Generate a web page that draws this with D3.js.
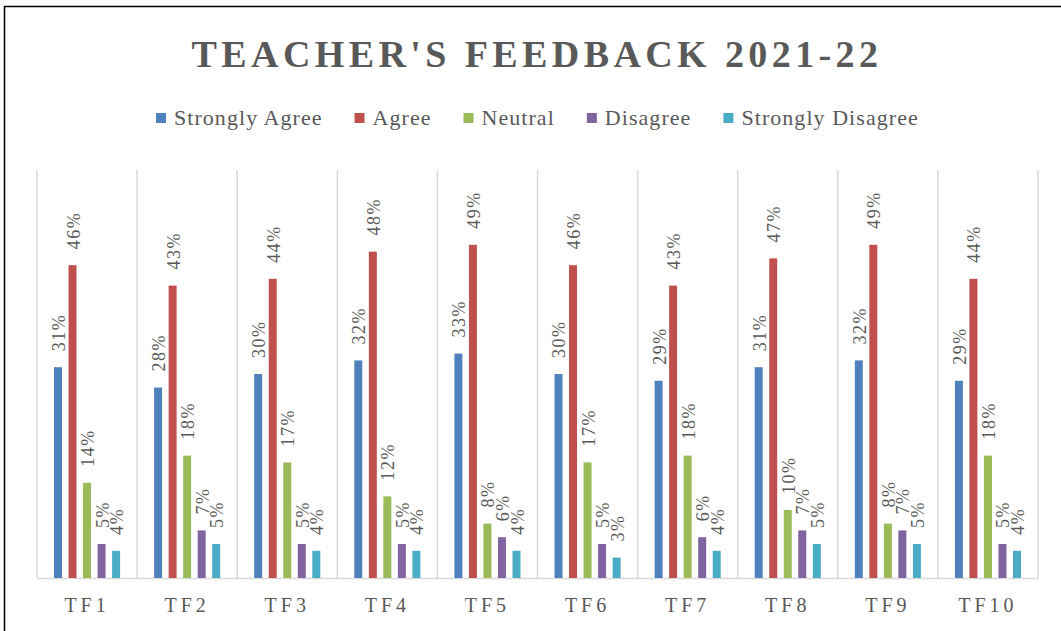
<!DOCTYPE html>
<html>
  <head>
    <meta charset="utf-8">
    <title>Teacher's feedback 2021-22</title>
    <script src="https://d3js.org/d3.v7.min.js"></script>
    <style>
      body { margin: 0; background: #fff; }
      svg { display: block; font-family: "Liberation Serif", "DejaVu Serif", serif; }
    </style>
  </head>
  <body>
    <div id="chart"></div>
    <script>
      // data
      var categories = ["TF1", "TF2", "TF3", "TF4", "TF5", "TF6", "TF7", "TF8", "TF9", "TF10"];
      var seriesNames = ["Strongly Agree", "Agree", "Neutral", "Disagree", "Strongly Disagree"];
      var stronglyAgree = [31, 28, 30, 32, 33, 30, 29, 31, 32, 29];
      var agree = [46, 43, 44, 48, 49, 46, 43, 47, 49, 44];
      var neutral = [14, 18, 17, 12, 8, 17, 18, 10, 8, 18];
      var disagree = [5, 7, 5, 5, 6, 5, 6, 7, 7, 5];
      var stronglyDisagree = [4, 5, 4, 4, 4, 3, 4, 5, 5, 4];
      var seriesValues = [stronglyAgree, agree, neutral, disagree, stronglyDisagree];
      var colours = ["#4F81BD", "#C0504D", "#9BBB59", "#8064A2", "#4BACC6"];

      var width = 1061, height = 631;
      var plot = { left: 37, right: 1038, top: 170, bottom: 578 };
      var textCol = "#595959";

      var svg = d3.select("#chart").append("svg")
        .attr("width", width)
        .attr("height", height);

      // outer frame (runs off the right and bottom of the picture)
      svg.append("path")
        .attr("d", "M4.5," + height + "V6.5H" + width)
        .attr("fill", "none")
        .attr("stroke", "#000")
        .attr("stroke-width", 1.5);

      // title
      svg.append("text")
        .attr("x", 537)
        .attr("y", 67)
        .attr("text-anchor", "middle")
        .attr("fill", textCol)
        .attr("font-weight", "bold")
        .attr("font-size", 38)
        .attr("letter-spacing", 4.4)
        .text("TEACHER'S FEEDBACK 2021-22");

      // scales
      var x0 = d3.scaleBand()
        .domain(categories)
        .range([plot.left, plot.right]);
      var x1 = d3.scaleBand()
        .domain(seriesNames)
        .range([17, x0.bandwidth() - 17])
        .paddingInner(0.45);
      var y = d3.scaleLinear()
        .domain([0, 60])
        .range([plot.bottom, plot.top]);

      // vertical gridlines between categories
      var bounds = categories.map(function(c) { return x0(c); }).concat([plot.right]);
      svg.append("g")
        .selectAll("line")
        .data(bounds)
        .join("line")
          .attr("x1", function(d) { return d; })
          .attr("x2", function(d) { return d; })
          .attr("y1", plot.top)
          .attr("y2", plot.bottom)
          .attr("stroke", "#d9d9d9")
          .attr("stroke-width", 1.5);

      // x axis
      var xAxis = svg.append("g")
        .attr("transform", "translate(0," + plot.bottom + ")")
        .call(d3.axisBottom(x0).tickSize(0).tickPadding(20));
      xAxis.select(".domain")
        .attr("stroke", "#d9d9d9")
        .attr("stroke-width", 1.5);
      xAxis.selectAll("text")
        .attr("fill", textCol)
        .attr("font-family", "Liberation Serif, serif")
        .attr("font-size", 20)
        .attr("letter-spacing", 4);

      // bars
      var groups = svg.append("g")
        .selectAll("g")
        .data(categories)
        .join("g")
          .attr("transform", function(c) { return "translate(" + x0(c) + ",0)"; });

      groups.selectAll("rect")
        .data(function(c, i) {
          return seriesNames.map(function(s, j) { return { series: s, value: seriesValues[j][i], colour: colours[j] }; });
        })
        .join("rect")
          .attr("x", function(d) { return x1(d.series); })
          .attr("width", x1.bandwidth())
          .attr("y", function(d) { return y(d.value); })
          .attr("height", function(d) { return y(0) - y(d.value); })
          .attr("fill", function(d) { return d.colour; });

      // rotated data labels
      groups.selectAll("text")
        .data(function(c, i) {
          return seriesNames.map(function(s, j) { return { series: s, value: seriesValues[j][i] }; });
        })
        .join("text")
          .attr("transform", function(d) {
            var cx = x1(d.series) + x1.bandwidth() / 2 + 7;
            return "translate(" + cx + "," + (y(d.value) - 16) + ") rotate(-90)";
          })
          .attr("fill", textCol)
          .attr("font-size", 18)
          .attr("letter-spacing", 1.5)
          .text(function(d) { return d.value + "%"; });

      // legend
      var legend = svg.append("g")
        .attr("transform", "translate(0,118)");
      var lx = 156;
      seriesNames.forEach(function(s, j) {
        legend.append("rect")
          .attr("x", lx)
          .attr("y", -5)
          .attr("width", 10)
          .attr("height", 10)
          .attr("fill", colours[j]);
        var t = legend.append("text")
          .attr("x", lx + 18)
          .attr("y", 7)
          .attr("fill", textCol)
          .attr("font-size", 22)
          .attr("letter-spacing", 1.05)
          .text(s);
        lx += 18 + t.node().getComputedTextLength() + 32;
      });
    </script>
  </body>
</html>
